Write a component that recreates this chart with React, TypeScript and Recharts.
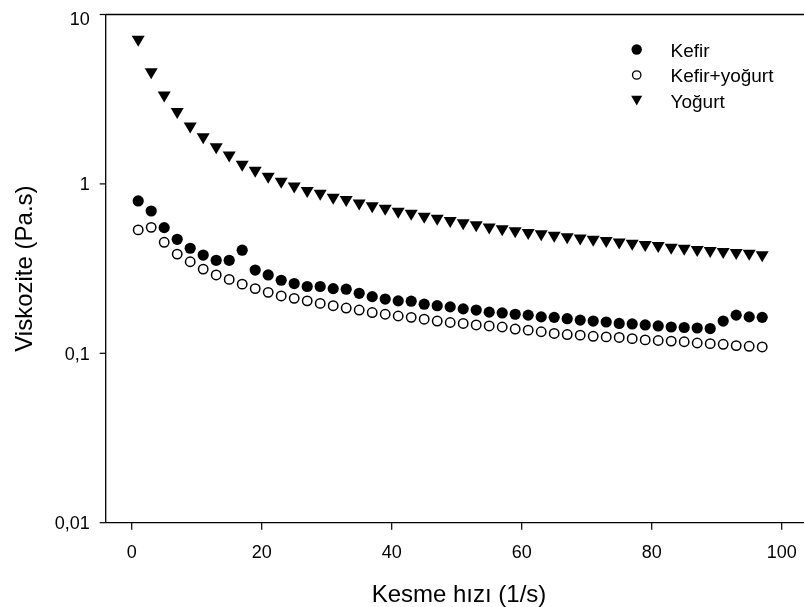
import React from "react";
import { ScatterChart, Scatter, XAxis, YAxis, ReferenceLine, Legend } from "recharts";

// Shear rate (1/s)
const shearRates = [
  1, 3, 5, 7, 9, 11, 13, 15, 17, 19,
  21, 23, 25, 27, 29, 31, 33, 35, 37, 39,
  41, 43, 45, 47, 49, 51, 53, 55, 57, 59,
  61, 63, 65, 67, 69, 71, 73, 75, 77, 79,
  81, 83, 85, 87, 89, 91, 93, 95, 97,
];

// Viscosity (Pa.s)
const kefir = [
  0.793, 0.692, 0.552, 0.471, 0.417, 0.38, 0.354, 0.354, 0.406, 0.31,
  0.29, 0.27, 0.258, 0.248, 0.248, 0.241, 0.239, 0.226, 0.216, 0.209,
  0.204, 0.203, 0.195, 0.191, 0.188, 0.183, 0.18, 0.175, 0.173, 0.17,
  0.168, 0.164, 0.163, 0.16, 0.157, 0.155, 0.153, 0.15, 0.149, 0.147,
  0.145, 0.143, 0.142, 0.141, 0.14, 0.155, 0.168, 0.164, 0.163,
];

const kefirYogurt = [
  0.535, 0.554, 0.452, 0.385, 0.347, 0.314, 0.29, 0.273, 0.256, 0.241,
  0.229, 0.218, 0.211, 0.204, 0.197, 0.191, 0.185, 0.18, 0.174, 0.17,
  0.166, 0.163, 0.159, 0.155, 0.152, 0.15, 0.147, 0.145, 0.143, 0.139,
  0.137, 0.134, 0.131, 0.129, 0.128, 0.126, 0.125, 0.124, 0.122, 0.12,
  0.119, 0.118, 0.117, 0.115, 0.114, 0.113, 0.111, 0.11, 0.109,
];

const yogurt = [
  6.95, 4.47, 3.26, 2.6, 2.14, 1.85, 1.61, 1.44, 1.27, 1.17,
  1.08, 1.01, 0.946, 0.89, 0.857, 0.813, 0.786, 0.751, 0.724, 0.699,
  0.672, 0.653, 0.628, 0.611, 0.592, 0.574, 0.558, 0.541, 0.529, 0.515,
  0.502, 0.494, 0.484, 0.475, 0.466, 0.458, 0.451, 0.442, 0.435, 0.427,
  0.421, 0.411, 0.406, 0.399, 0.393, 0.388, 0.383, 0.379, 0.371,
];

const seriesNames = ["Kefir", "Kefir+yoğurt", "Yoğurt"];

const xTicks = [0, 20, 40, 60, 80, 100];
const yTicks = [0.01, 0.1, 1, 10];
const yTickLabels = ["0,01", "0,1", "1", "10"];

const xTitle = "Kesme hızı (1/s)";
const yTitle = "Viskozite (Pa.s)";

const FONT = "'Liberation Sans', Arial, sans-serif";

const toPoints = (vals: number[]) => shearRates.map((x, i) => ({ x, y: vals[i] }));

const FilledCircle = (p: any) => <circle cx={p.cx} cy={p.cy} r={5.6} fill="#000" />;
const OpenCircle = (p: any) => (
  <circle cx={p.cx} cy={p.cy} r={4.7} fill="#fff" stroke="#000" strokeWidth={1.5} />
);
const DownTriangle = (p: any) => (
  <path
    d={`M${p.cx - 6.5},${p.cy - 5.5}L${p.cx + 6.5},${p.cy - 5.5}L${p.cx},${p.cy + 5.5}Z`}
    fill="#000"
  />
);

const legendMarkers = [
  (cx: number, cy: number) => <circle cx={cx} cy={cy} r={5.2} fill="#000" />,
  (cx: number, cy: number) => (
    <circle cx={cx} cy={cy} r={4.2} fill="#fff" stroke="#000" strokeWidth={1.3} />
  ),
  (cx: number, cy: number) => (
    <path d={`M${cx - 5.5},${cy - 4.8}L${cx + 5.5},${cy - 4.8}L${cx},${cy + 5}Z`} fill="#000" />
  ),
];

const renderLegend = () => (
  <svg width={170} height={90} style={{ display: "block" }}>
    {seriesNames.map((name, i) => (
      <g key={name}>
        {legendMarkers[i](13.7, 16.5 + i * 25.5)}
        <text x={47.5} y={23.7 + i * 25.5} fontSize={19} fontFamily={FONT} fill="#000">
          {name}
        </text>
      </g>
    ))}
  </svg>
);

export default function App() {
  return (
    <div style={{ position: "fixed", left: 8, top: 8, width: 830, height: 599 }}>
      <ScatterChart
        width={830}
        height={599}
        margin={{ top: 6.5, right: 23.8, bottom: 0, left: 0 }}
      >
        <XAxis
          type="number"
          dataKey="x"
          domain={[-4, 105]}
          ticks={xTicks}
          allowDataOverflow
          height={84.3}
          tickSize={7}
          tickMargin={15.5}
          stroke="#000"
          strokeWidth={1.3}
          tick={{ fontSize: 18, fontFamily: FONT, fill: "#000" }}
          tickLine={{ stroke: "#000", strokeWidth: 1.2 }}
          label={{
            content: () => (
              <text
                x={451}
                y={593.7}
                textAnchor="middle"
                fontSize={24}
                fontFamily={FONT}
                fill="#000"
              >
                {xTitle}
              </text>
            ),
          }}
        />
        <YAxis
          type="number"
          dataKey="y"
          scale="log"
          domain={[0.01, 10]}
          ticks={yTicks}
          allowDataOverflow
          width={97.7}
          tickSize={6}
          tickMargin={10}
          stroke="#000"
          strokeWidth={1.3}
          tick={{ fontSize: 18, fontFamily: FONT, fill: "#000" }}
          tickLine={{ stroke: "#000", strokeWidth: 1.2 }}
          tickFormatter={(v: number) => yTickLabels[yTicks.indexOf(v)] ?? String(v)}
          label={{
            content: () => (
              <text
                x={24.3}
                y={260.6}
                transform="rotate(-90, 24.3, 260.6)"
                textAnchor="middle"
                fontSize={24}
                fontFamily={FONT}
                fill="#000"
              >
                {yTitle}
              </text>
            ),
          }}
        />
        <ReferenceLine y={10} stroke="#000" strokeWidth={1.3} />
        <Legend
          layout="vertical"
          align="center"
          verticalAlign="middle"
          content={renderLegend}
          wrapperStyle={{ left: 615, top: 25, width: 170, height: 90 }}
        />
        <Scatter
          name={seriesNames[1]}
          data={toPoints(kefirYogurt)}
          shape={OpenCircle}
          isAnimationActive={false}
        />
        <Scatter
          name={seriesNames[0]}
          data={toPoints(kefir)}
          shape={FilledCircle}
          isAnimationActive={false}
        />
        <Scatter
          name={seriesNames[2]}
          data={toPoints(yogurt)}
          shape={DownTriangle}
          isAnimationActive={false}
        />
      </ScatterChart>
    </div>
  );
}
